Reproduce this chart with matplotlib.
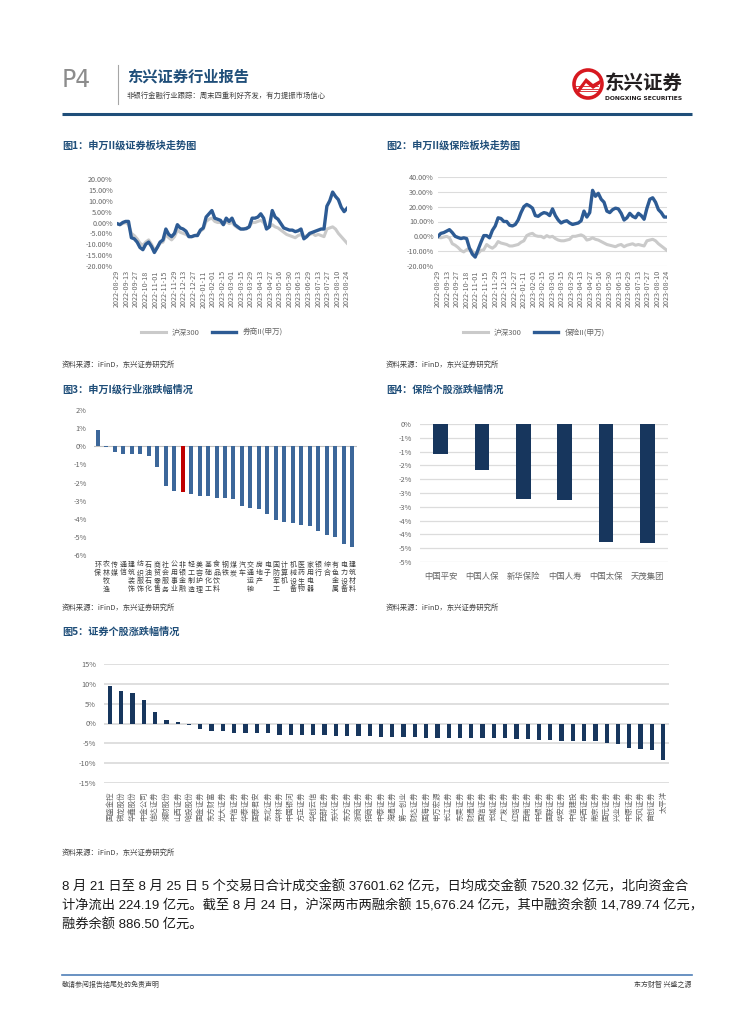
import matplotlib
matplotlib.use('Agg')
import matplotlib.pyplot as plt
from matplotlib.patches import Circle, Polygon
import numpy as np

plt.rcParams['font.family'] = ['Noto Sans CJK SC', 'DejaVu Sans']
plt.rcParams['axes.unicode_minus'] = False

W, H = 755, 1024

# ---------------- data ----------------
# trend charts: one value every 3 trading days, 2022-08-29 .. 2023-08-24
date_ticks = ['2022-08-29', '2022-09-13', '2022-09-27', '2022-10-18', '2022-11-01',
              '2022-11-15', '2022-11-29', '2022-12-13', '2022-12-27', '2023-01-11',
              '2023-02-01', '2023-02-15', '2023-03-01', '2023-03-15', '2023-03-29',
              '2023-04-13', '2023-04-27', '2023-05-16', '2023-05-30', '2023-06-13',
              '2023-06-29', '2023-07-13', '2023-07-27', '2023-08-10', '2023-08-24']

hs300 = [-0.5, -1.0, -0.5, 0.0, -1.0, -5.0, -6.0, -7.5, -9.5, -10.5,
         -9.0, -8.0, -10.0, -12.5, -11.5, -9.5, -9.0, -5.5, -7.0, -8.0,
         -6.5, -3.5, -4.5, -5.0, -5.5, -6.5, -6.5, -6.0, -5.5, -4.0,
         -3.0, 0.5, 1.5, 2.0, 0.5, 0.0, 0.0, -1.0, 0.5, -0.5,
         0.0, -1.5, -2.5, -3.0, -3.0, -2.5, -2.0, 0.0, 0.0, 0.5,
         1.0, 0.0, -2.5, -2.0, -1.0, -2.0, -2.5, -3.5, -4.5, -5.5,
         -6.0, -6.5, -7.0, -6.0, -5.5, -7.0, -6.0, -5.5, -5.0, -6.0,
         -5.5, -6.0, -6.5, -3.0, -2.5, -2.0, -3.0, -5.0, -6.5, -8.0, -9.5]

broker = [-0.5, -1.0, 0.0, 0.5, 0.5, -7.0, -7.5, -9.0, -11.5, -12.5,
          -10.0, -9.0, -11.0, -13.8, -11.5, -9.0, -8.0, -3.0, -5.5, -6.5,
          -5.0, -1.0, -2.5, -3.0, -4.0, -6.5, -6.5, -6.0, -6.0, -3.5,
          -2.5, 2.5, 4.0, 5.5, 2.0, 1.5, 1.0, -1.0, 2.0, 0.5,
          2.0, -1.0, -2.0, -3.0, -3.0, -2.8, -2.0, 2.0, 2.0, 2.5,
          4.0, 2.0, -3.0, -2.0, 5.5, 2.5, 1.5, -0.5, -2.5, -3.0,
          -3.5, -3.5, -4.2, -3.8, -3.0, -7.5, -6.5, -5.0, -4.5, -4.0,
          -3.5, -3.0, -3.0, 7.5, 10.0, 14.0, 12.0, 10.5, 7.0, 5.0, 6.5]

insurer = [0.0, 2.0, 2.5, 3.5, 4.5, 2.5, 0.0, -0.8, -1.5, -1.0,
           -1.5, -8.0, -12.0, -14.0, -9.0, -4.0, 0.5, 0.5, -1.0, 4.0,
           7.0, 12.5, 12.0, 10.0, 10.0, 7.5, 7.0, 8.0, 11.0, 16.0,
           20.0, 21.5, 20.5, 19.0, 14.0, 13.5, 15.0, 16.0, 15.5, 14.0,
           18.5, 14.0, 11.0, 9.0, 10.0, 10.5, 9.0, 8.0, 8.5, 9.0,
           10.5, 17.0, 13.0, 16.0, 31.0, 27.0, 29.0, 25.0, 23.0, 17.0,
           16.0, 18.0, 19.0, 18.5, 15.5, 11.0, 12.5, 15.5, 13.5, 12.5,
           15.5, 14.0, 11.5, 19.0, 25.0, 26.0, 23.0, 18.0, 16.0, 13.0, 13.0]

sample_step = 3
tick_step = 10

industries = ['环保', '农林牧渔', '传媒', '通信', '建筑装饰', '纺织服饰', '石油石化',
              '商贸零售', '社会服务', '公用事业', '非银金融', '轻工制造', '美容护理',
              '基础化工', '食品饮料', '钢铁', '煤炭', '汽车', '交通运输', '房地产',
              '电子', '国防军工', '计算机', '机械设备', '医药生物', '家用电器', '银行',
              '综合', '有色金属', '电力设备', '建筑材料']
industry_chg = [0.90, -0.05, -0.33, -0.42, -0.42, -0.44, -0.53, -1.16, -2.20, -2.46,
                -2.54, -2.63, -2.74, -2.74, -2.83, -2.83, -2.90, -3.30, -3.40, -3.46,
                -3.73, -4.08, -4.19, -4.25, -4.36, -4.41, -4.69, -4.89, -5.02, -5.40, -5.57]
highlight = '非银金融'

insurers = ['中国平安', '中国人保', '新华保险', '中国人寿', '中国太保', '天茂集团']
insurer_chg = [-1.07, -1.65, -2.70, -2.76, -4.27, -4.30]
ins_ticks = [0, -0.5, -1, -1.5, -2, -2.5, -3, -3.5, -4, -4.5, -5]
ins_tick_labels = ['0%', '-1%', '-1%', '-2%', '-2%', '-3%', '-3%', '-4%', '-4%', '-5%', '-5%']

brokers = ['国盛金控', '锦龙股份', '华鑫股份', '中金公司', '信达证券', '湘财股份', '山西证券',
           '哈投股份', '国金证券', '东方财富', '光大证券', '中信证券', '华泰证券', '国泰君安',
           '东北证券', '华林证券', '中国银河', '方正证券', '华创云信', '西部证券', '东兴证券',
           '东方证券', '浙商证券', '招商证券', '中泰证券', '海通证券', '第一创业', '财达证券',
           '国海证券', '申万宏源', '长江证券', '东吴证券', '财通证券', '国信证券', '长城证券',
           '广发证券', '红塔证券', '西南证券', '中银证券', '国联证券', '华安证券', '中信建投',
           '华西证券', '南京证券', '国元证券', '兴业证券', '中原证券', '天风证券', '首创证券',
           '太平洋']
broker_chg = [9.5, 8.1, 7.7, 5.9, 2.85, 0.85, 0.4, -0.5, -1.35, -1.85,
              -2.0, -2.3, -2.3, -2.35, -2.35, -2.8, -2.8, -2.95, -2.95, -2.95,
              -3.2, -3.2, -3.2, -3.25, -3.4, -3.4, -3.4, -3.4, -3.6, -3.6,
              -3.65, -3.65, -3.65, -3.65, -3.7, -3.7, -3.95, -3.95, -4.2, -4.2,
              -4.4, -4.45, -4.45, -4.45, -4.9, -5.1, -6.3, -6.4, -6.6, -9.1]

body_lines = ['8 月 21 日至 8 月 25 日 5 个交易日合计成交金额 37601.62 亿元，日均成交金额 7520.32 亿元，北向资金合',
              '计净流出 224.19 亿元。截至 8 月 24 日，沪深两市两融余额 15,676.24 亿元，其中融资余额 14,789.74 亿元，',
              '融券余额 886.50 亿元。']

# ---------------- colours ----------------
NAVY = '#1f4e79'
LINE_BLUE = '#2d5b94'
GREY_LINE = '#cacaca'
BAR_BLUE = '#3c679a'
BAR_NAVY = '#17365d'
RED = '#c00000'
TICK = '#666666'
GRID = '#dcdcdc'

fig = plt.figure(figsize=(W / 100, H / 100), dpi=100)

# page layer in pixel coordinates
page = fig.add_axes([0, 0, 1, 1])
page.set_xlim(0, W)
page.set_ylim(H, 0)
page.axis('off')


def ax_px(l, t, r, b):
    a = fig.add_axes([l / W, 1 - b / H, (r - l) / W, (b - t) / H])
    a.set_facecolor('none')
    for s in a.spines.values():
        s.set_visible(False)
    return a


# ---------------- header ----------------
page.text(62, 80, 'P4', fontsize=17, color='#8c8c8c', va='center', ha='left', family='DejaVu Sans')
page.plot([118, 118], [65, 104], color='#a6a6a6', lw=0.8)
page.text(127, 77, '东兴证券行业报告', fontsize=11, color=NAVY, fontweight='bold', va='center')
page.text(127, 96, '非银行金融行业跟踪：周末四重利好齐发，有力提振市场信心', fontsize=5.3,
          color='#404040', va='center')
page.plot([62, 692], [113.5, 113.5], color=NAVY, lw=2.2, solid_capstyle='butt')

# logo
page.add_patch(Circle((588, 84), 14, fc='white', ec='#d71920', lw=2.6))
page.add_patch(Polygon([[577, 90], [586, 78], [593, 84], [600, 80], [600, 84], [593, 89], [586, 83], [579, 93]],
                       closed=True, fc='#d71920', ec='none'))
for dy in (0, 2.5, 5):
    page.plot([576, 598], [86 + dy, 86 + dy], color='#d71920', lw=0.6)
page.text(605, 83, '东兴证券', fontsize=14, fontweight='bold', color='#231f20', va='center')
page.text(605, 98, 'DONGXING SECURITIES', fontsize=4.3, fontweight='bold', color='#231f20',
          va='center', family='DejaVu Sans')

# ---------------- captions and sources ----------------
cap_kw = dict(fontsize=7.3, color=NAVY, fontweight='bold', va='center')
src_kw = dict(fontsize=5.3, color='#404040', va='center', style='italic')
page.text(62, 146, '图1：申万II级证券板块走势图', **cap_kw)
page.text(386, 146, '图2：申万II级保险板块走势图', **cap_kw)
page.text(62, 365, '资料来源：iFinD，东兴证券研究所', **src_kw)
page.text(386, 365, '资料来源：iFinD，东兴证券研究所', **src_kw)
page.text(62, 390, '图3：申万I级行业涨跌幅情况', **cap_kw)
page.text(386, 390, '图4：保险个股涨跌幅情况', **cap_kw)
page.text(62, 608, '资料来源：iFinD，东兴证券研究所', **src_kw)
page.text(386, 608, '资料来源：iFinD，东兴证券研究所', **src_kw)
page.text(62, 632, '图5：证券个股涨跌幅情况', **cap_kw)
page.text(62, 853, '资料来源：iFinD，东兴证券研究所', **src_kw)

# ---------------- trend charts ----------------
x_days = np.arange(len(hs300)) * sample_step
tick_pos = np.arange(len(date_ticks)) * tick_step


def trend(ax, series, name, yticks, grid):
    ax.plot(x_days, hs300, color=GREY_LINE, lw=2.2, label='沪深300', solid_joinstyle='round')
    ax.plot(x_days, series, color=LINE_BLUE, lw=2.4, label=name, solid_joinstyle='round')
    ax.set_xlim(0, tick_pos[-1])
    ax.set_ylim(yticks[0], yticks[-1])
    ax.set_yticks(yticks)
    ax.set_yticklabels(['%.2f%%' % v for v in yticks])
    ax.set_xticks(tick_pos)
    ax.set_xticklabels(date_ticks, rotation=90)
    ax.tick_params(length=0, labelsize=5.2, labelcolor=TICK, pad=3)
    if grid:
        ax.set_axisbelow(True)
        ax.grid(axis='y', color=GRID, lw=0.8)


ax1 = ax_px(117, 179, 347, 266)
trend(ax1, broker, '券商II(申万)', [-20, -15, -10, -5, 0, 5, 10, 15, 20], False)
ax1.legend(loc='center', bbox_to_anchor=(212 / W, 1 - 333 / H), bbox_transform=fig.transFigure,
           ncol=2, frameon=False, fontsize=5.5, handlelength=3.2, columnspacing=1.6,
           labelcolor=TICK)

ax2 = ax_px(438, 177, 667, 266)
trend(ax2, insurer, '保险II(申万)', [-20, -10, 0, 10, 20, 30, 40], True)
ax2.legend(loc='center', bbox_to_anchor=(534 / W, 1 - 333 / H), bbox_transform=fig.transFigure,
           ncol=2, frameon=False, fontsize=5.5, handlelength=3.2, columnspacing=1.6,
           labelcolor=TICK)

# ---------------- industry bars ----------------
ax3 = ax_px(93.5, 410, 356.5, 555)
xi = np.arange(len(industries))
cols = [RED if n == highlight else BAR_BLUE for n in industries]
ax3.bar(xi, industry_chg, width=0.47, color=cols, zorder=2)
ax3.axhline(0, color='#bfbfbf', lw=0.8, zorder=1)
ax3.set_xlim(-0.5, len(industries) - 0.5)
ax3.set_ylim(-6, 2)
ax3.set_yticks(range(-6, 3))
ax3.set_yticklabels(['%d%%' % v for v in range(-6, 3)])
ax3.set_xticks(xi)
ax3.set_xticklabels(['\n'.join(n) for n in industries], va='top', linespacing=1.05)
ax3.tick_params(axis='y', length=0, labelsize=5.3, labelcolor=TICK, pad=5)
ax3.tick_params(axis='x', length=0, labelsize=5, labelcolor='#404040', pad=4)

# ---------------- insurer bars ----------------
ax4 = ax_px(420, 424, 668, 562)
xs = np.arange(len(insurers))
ax4.bar(xs, insurer_chg, width=0.36, color=BAR_NAVY, zorder=2)
ax4.set_xlim(-0.5, len(insurers) - 0.5)
ax4.set_ylim(-5, 0)
ax4.set_yticks(ins_ticks)
ax4.set_yticklabels(ins_tick_labels)
ax4.set_axisbelow(True)
ax4.grid(axis='y', color=GRID, lw=0.9)
ax4.set_xticks(xs)
ax4.set_xticklabels(insurers)
ax4.tick_params(axis='y', length=0, labelsize=5.3, labelcolor=TICK, pad=6)
ax4.tick_params(axis='x', length=0, labelsize=6, labelcolor=TICK, pad=7)

# ---------------- broker bars ----------------
ax5 = ax_px(104.4, 664, 668.8, 783)
xb = np.arange(len(brokers))
ax5.bar(xb, broker_chg, width=0.38, color=BAR_NAVY, zorder=2)
ax5.set_xlim(-0.5, len(brokers) - 0.5)
ax5.set_ylim(-15, 15)
yt5 = [-15, -10, -5, 0, 5, 10, 15]
ax5.set_yticks(yt5)
ax5.set_yticklabels(['%d%%' % v for v in yt5])
ax5.set_axisbelow(True)
ax5.grid(axis='y', color=GRID, lw=1.3)
ax5.set_xticks(xb)
ax5.set_xticklabels(brokers, rotation=90)
ax5.tick_params(axis='y', length=0, labelsize=5.3, labelcolor=TICK, pad=6)
ax5.tick_params(axis='x', length=0, labelsize=5.3, labelcolor=TICK, pad=6)

# ---------------- body text ----------------
for i, line in enumerate(body_lines):
    page.text(62, 887 + i * 18.5, line, fontsize=9.55, color='#1a1a1a', va='center',
              family=['Liberation Sans', 'Noto Sans CJK SC'])

# ---------------- footer ----------------
page.plot([62, 692], [975, 975], color='#4f7fb8', lw=1.2)
page.text(62, 985, '敬请参阅报告结尾处的免责声明', fontsize=5, color='#404040', va='center')
page.text(692, 985, '东方财智 兴盛之源', fontsize=5, color='#404040', va='center', ha='right')

fig.savefig('out.png', dpi=100)
